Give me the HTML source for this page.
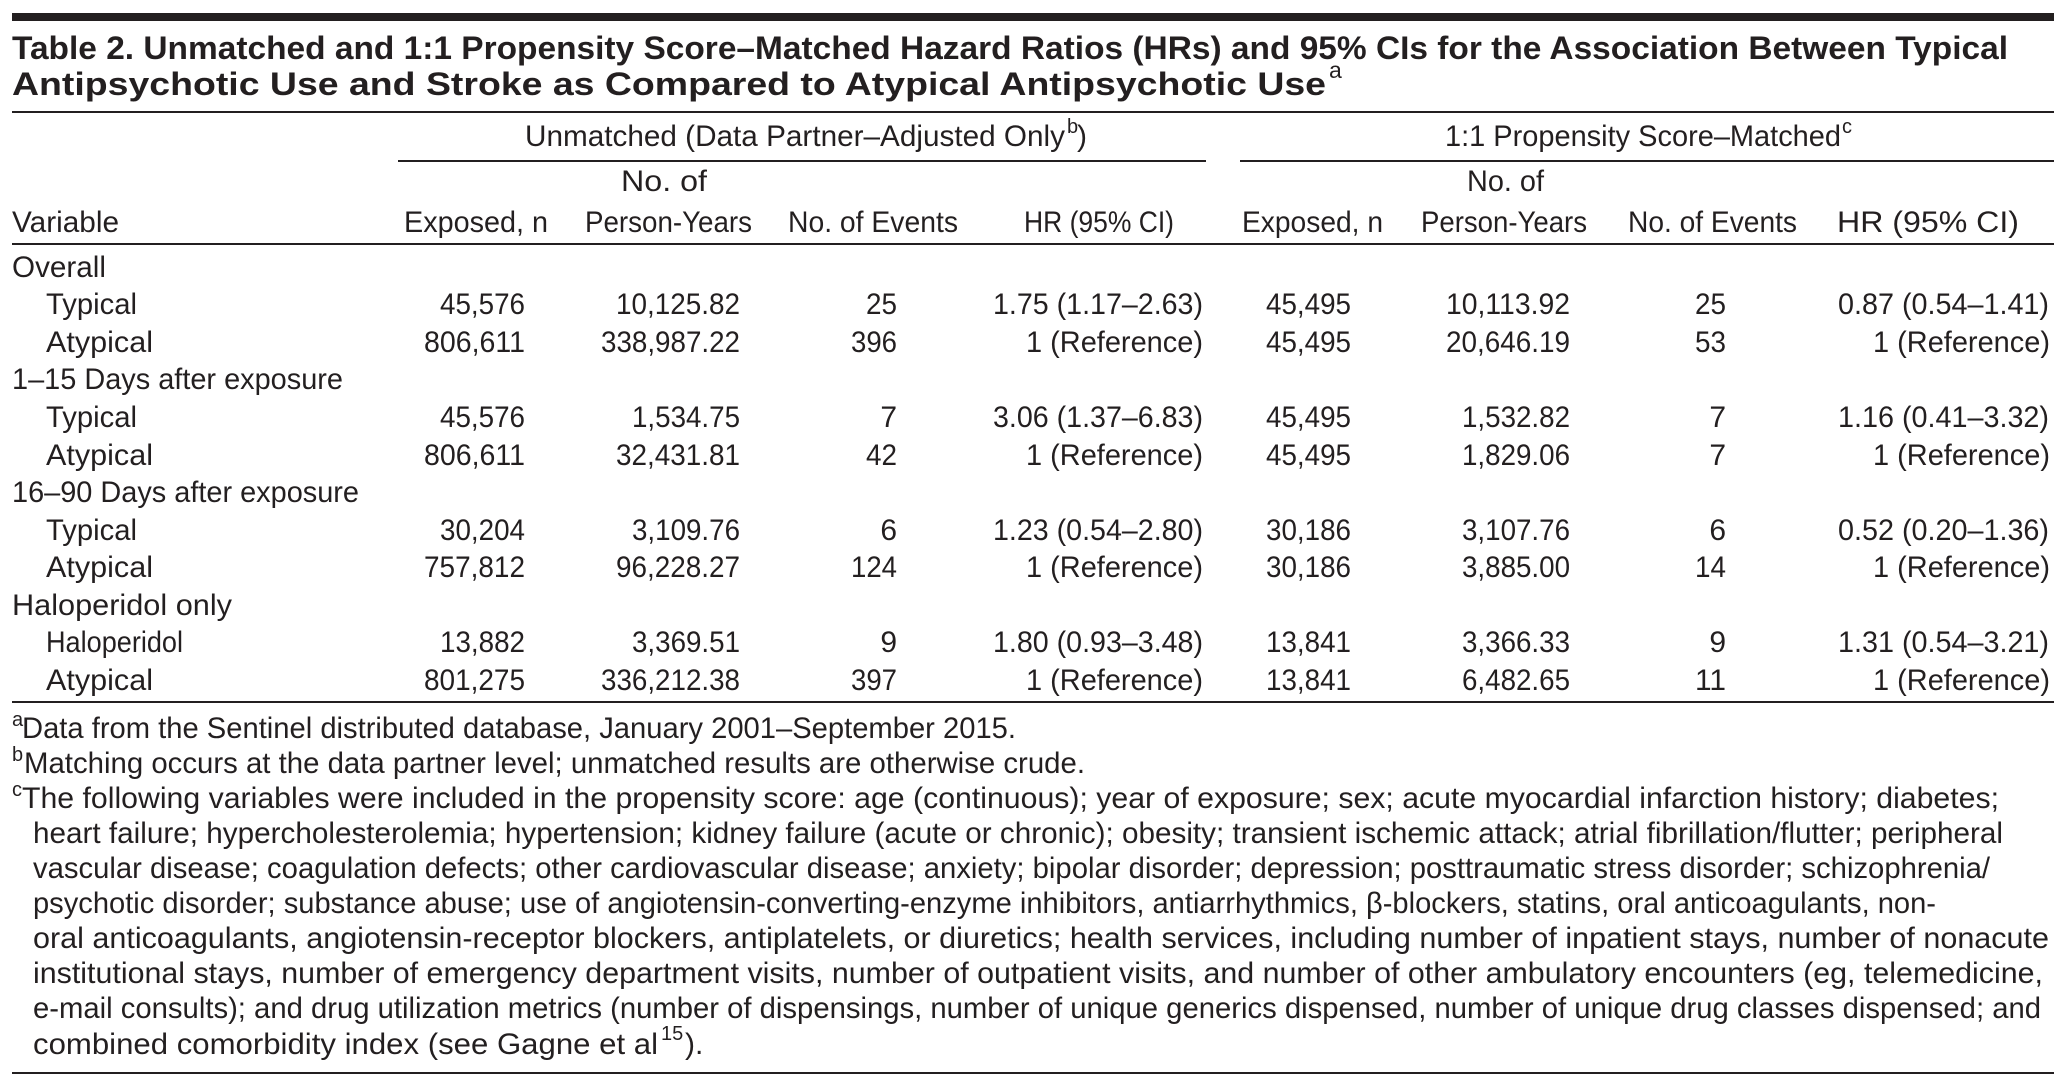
<!DOCTYPE html>
<html><head><meta charset="utf-8"><style>
html,body{margin:0;padding:0;background:#fff;}
svg{display:block;}
text{font-family:"Liberation Sans Narrow","Liberation Sans",sans-serif;fill:#231f20;font-size:30px;}
.b{font-weight:bold;font-size:32px;}
.r{text-anchor:end;}
.s{font-size:20px;}
</style></head><body>
<svg width="2069" height="1088" viewBox="0 0 2069 1088" xmlns="http://www.w3.org/2000/svg">
<rect x="12" y="13" width="2042" height="8" fill="#231f20"/>
<text class="b" x="12" y="59" textLength="1996" lengthAdjust="spacingAndGlyphs">Table 2. Unmatched and 1:1 Propensity Score–Matched Hazard Ratios (HRs) and 95% CIs for the Association Between Typical</text>
<text class="b" x="12" y="95" textLength="1314" lengthAdjust="spacingAndGlyphs">Antipsychotic Use and Stroke as Compared to Atypical Antipsychotic Use</text>
<text class="s" style="font-size:23px" x="1329" y="78">a</text>
<rect x="12" y="111" width="2042" height="2" fill="#231f20"/>

<text x="525" y="146" textLength="540" lengthAdjust="spacingAndGlyphs">Unmatched (Data Partner–Adjusted Only</text>
<text class="s" x="1067" y="133">b</text>
<text x="1077" y="146">)</text>
<rect x="398" y="160" width="808" height="2" fill="#231f20"/>
<text x="1445" y="146" textLength="396" lengthAdjust="spacingAndGlyphs">1:1 Propensity Score–Matched</text>
<text class="s" x="1842" y="133">c</text>
<rect x="1240" y="160" width="814" height="2" fill="#231f20"/>

<text x="621" y="191" textLength="86" lengthAdjust="spacingAndGlyphs">No. of</text>
<text x="1467" y="191" textLength="77" lengthAdjust="spacingAndGlyphs">No. of</text>
<text x="12" y="232" textLength="107" lengthAdjust="spacingAndGlyphs">Variable</text>
<text x="404" y="232" textLength="144" lengthAdjust="spacingAndGlyphs">Exposed, n</text>
<text x="585" y="232" textLength="167" lengthAdjust="spacingAndGlyphs">Person-Years</text>
<text x="788" y="232" textLength="170" lengthAdjust="spacingAndGlyphs">No. of Events</text>
<text x="1024" y="232" textLength="150" lengthAdjust="spacingAndGlyphs">HR (95% CI)</text>
<text x="1242" y="232" textLength="141" lengthAdjust="spacingAndGlyphs">Exposed, n</text>
<text x="1421" y="232" textLength="166" lengthAdjust="spacingAndGlyphs">Person-Years</text>
<text x="1628" y="232" textLength="169" lengthAdjust="spacingAndGlyphs">No. of Events</text>
<text x="1837" y="232" textLength="182" lengthAdjust="spacingAndGlyphs">HR (95% CI)</text>
<rect x="12" y="243" width="2042" height="2" fill="#231f20"/>

<text x="12" y="277" textLength="94" lengthAdjust="spacingAndGlyphs">Overall</text>
<text x="46" y="314" textLength="91" lengthAdjust="spacingAndGlyphs">Typical</text>
<text x="46" y="352" textLength="107" lengthAdjust="spacingAndGlyphs">Atypical</text>
<text x="12" y="389" textLength="331" lengthAdjust="spacingAndGlyphs">1–15 Days after exposure</text>
<text x="46" y="427" textLength="91" lengthAdjust="spacingAndGlyphs">Typical</text>
<text x="46" y="465" textLength="107" lengthAdjust="spacingAndGlyphs">Atypical</text>
<text x="12" y="502" textLength="347" lengthAdjust="spacingAndGlyphs">16–90 Days after exposure</text>
<text x="46" y="540" textLength="91" lengthAdjust="spacingAndGlyphs">Typical</text>
<text x="46" y="577" textLength="107" lengthAdjust="spacingAndGlyphs">Atypical</text>
<text x="12" y="615" textLength="220" lengthAdjust="spacingAndGlyphs">Haloperidol only</text>
<text x="46" y="652" textLength="137" lengthAdjust="spacingAndGlyphs">Haloperidol</text>
<text x="46" y="690" textLength="107" lengthAdjust="spacingAndGlyphs">Atypical</text>

<g>
<text class="r" x="525" y="314" textLength="85" lengthAdjust="spacingAndGlyphs">45,576</text>
<text class="r" x="525" y="352" textLength="101" lengthAdjust="spacingAndGlyphs">806,611</text>
<text class="r" x="525" y="427" textLength="85" lengthAdjust="spacingAndGlyphs">45,576</text>
<text class="r" x="525" y="465" textLength="101" lengthAdjust="spacingAndGlyphs">806,611</text>
<text class="r" x="525" y="540" textLength="85" lengthAdjust="spacingAndGlyphs">30,204</text>
<text class="r" x="525" y="577" textLength="101" lengthAdjust="spacingAndGlyphs">757,812</text>
<text class="r" x="525" y="652" textLength="85" lengthAdjust="spacingAndGlyphs">13,882</text>
<text class="r" x="525" y="690" textLength="101" lengthAdjust="spacingAndGlyphs">801,275</text>

<text class="r" x="740" y="314" textLength="124" lengthAdjust="spacingAndGlyphs">10,125.82</text>
<text class="r" x="740" y="352" textLength="139" lengthAdjust="spacingAndGlyphs">338,987.22</text>
<text class="r" x="740" y="427" textLength="108" lengthAdjust="spacingAndGlyphs">1,534.75</text>
<text class="r" x="740" y="465" textLength="124" lengthAdjust="spacingAndGlyphs">32,431.81</text>
<text class="r" x="740" y="540" textLength="108" lengthAdjust="spacingAndGlyphs">3,109.76</text>
<text class="r" x="740" y="577" textLength="124" lengthAdjust="spacingAndGlyphs">96,228.27</text>
<text class="r" x="740" y="652" textLength="108" lengthAdjust="spacingAndGlyphs">3,369.51</text>
<text class="r" x="740" y="690" textLength="139" lengthAdjust="spacingAndGlyphs">336,212.38</text>

<text class="r" x="897" y="314" textLength="31" lengthAdjust="spacingAndGlyphs">25</text>
<text class="r" x="897" y="352" textLength="46" lengthAdjust="spacingAndGlyphs">396</text>
<text class="r" x="897" y="427">7</text>
<text class="r" x="897" y="465" textLength="31" lengthAdjust="spacingAndGlyphs">42</text>
<text class="r" x="897" y="540">6</text>
<text class="r" x="897" y="577" textLength="46" lengthAdjust="spacingAndGlyphs">124</text>
<text class="r" x="897" y="652">9</text>
<text class="r" x="897" y="690" textLength="46" lengthAdjust="spacingAndGlyphs">397</text>

<text class="r" x="1203" y="314" textLength="210" lengthAdjust="spacingAndGlyphs">1.75 (1.17–2.63)</text>
<text class="r" x="1203" y="352" textLength="177" lengthAdjust="spacingAndGlyphs">1 (Reference)</text>
<text class="r" x="1203" y="427" textLength="210" lengthAdjust="spacingAndGlyphs">3.06 (1.37–6.83)</text>
<text class="r" x="1203" y="465" textLength="177" lengthAdjust="spacingAndGlyphs">1 (Reference)</text>
<text class="r" x="1203" y="540" textLength="210" lengthAdjust="spacingAndGlyphs">1.23 (0.54–2.80)</text>
<text class="r" x="1203" y="577" textLength="177" lengthAdjust="spacingAndGlyphs">1 (Reference)</text>
<text class="r" x="1203" y="652" textLength="210" lengthAdjust="spacingAndGlyphs">1.80 (0.93–3.48)</text>
<text class="r" x="1203" y="690" textLength="177" lengthAdjust="spacingAndGlyphs">1 (Reference)</text>

<text class="r" x="1351" y="314" textLength="85" lengthAdjust="spacingAndGlyphs">45,495</text>
<text class="r" x="1351" y="352" textLength="85" lengthAdjust="spacingAndGlyphs">45,495</text>
<text class="r" x="1351" y="427" textLength="85" lengthAdjust="spacingAndGlyphs">45,495</text>
<text class="r" x="1351" y="465" textLength="85" lengthAdjust="spacingAndGlyphs">45,495</text>
<text class="r" x="1351" y="540" textLength="85" lengthAdjust="spacingAndGlyphs">30,186</text>
<text class="r" x="1351" y="577" textLength="85" lengthAdjust="spacingAndGlyphs">30,186</text>
<text class="r" x="1351" y="652" textLength="85" lengthAdjust="spacingAndGlyphs">13,841</text>
<text class="r" x="1351" y="690" textLength="85" lengthAdjust="spacingAndGlyphs">13,841</text>

<text class="r" x="1570" y="314" textLength="124" lengthAdjust="spacingAndGlyphs">10,113.92</text>
<text class="r" x="1570" y="352" textLength="124" lengthAdjust="spacingAndGlyphs">20,646.19</text>
<text class="r" x="1570" y="427" textLength="108" lengthAdjust="spacingAndGlyphs">1,532.82</text>
<text class="r" x="1570" y="465" textLength="108" lengthAdjust="spacingAndGlyphs">1,829.06</text>
<text class="r" x="1570" y="540" textLength="108" lengthAdjust="spacingAndGlyphs">3,107.76</text>
<text class="r" x="1570" y="577" textLength="108" lengthAdjust="spacingAndGlyphs">3,885.00</text>
<text class="r" x="1570" y="652" textLength="108" lengthAdjust="spacingAndGlyphs">3,366.33</text>
<text class="r" x="1570" y="690" textLength="108" lengthAdjust="spacingAndGlyphs">6,482.65</text>

<text class="r" x="1726" y="314" textLength="31" lengthAdjust="spacingAndGlyphs">25</text>
<text class="r" x="1726" y="352" textLength="31" lengthAdjust="spacingAndGlyphs">53</text>
<text class="r" x="1726" y="427">7</text>
<text class="r" x="1726" y="465">7</text>
<text class="r" x="1726" y="540">6</text>
<text class="r" x="1726" y="577" textLength="31" lengthAdjust="spacingAndGlyphs">14</text>
<text class="r" x="1726" y="652">9</text>
<text class="r" x="1726" y="690" textLength="31" lengthAdjust="spacingAndGlyphs">11</text>

<text class="r" x="2049" y="314" textLength="211" lengthAdjust="spacingAndGlyphs">0.87 (0.54–1.41)</text>
<text class="r" x="2050" y="352" textLength="177" lengthAdjust="spacingAndGlyphs">1 (Reference)</text>
<text class="r" x="2049" y="427" textLength="211" lengthAdjust="spacingAndGlyphs">1.16 (0.41–3.32)</text>
<text class="r" x="2050" y="465" textLength="177" lengthAdjust="spacingAndGlyphs">1 (Reference)</text>
<text class="r" x="2049" y="540" textLength="211" lengthAdjust="spacingAndGlyphs">0.52 (0.20–1.36)</text>
<text class="r" x="2050" y="577" textLength="177" lengthAdjust="spacingAndGlyphs">1 (Reference)</text>
<text class="r" x="2049" y="652" textLength="211" lengthAdjust="spacingAndGlyphs">1.31 (0.54–3.21)</text>
<text class="r" x="2050" y="690" textLength="177" lengthAdjust="spacingAndGlyphs">1 (Reference)</text>
</g>
<rect x="12" y="701" width="2042" height="2" fill="#231f20"/>

<text class="s" x="12" y="726">a</text>
<text x="22" y="738" textLength="994" lengthAdjust="spacingAndGlyphs">Data from the Sentinel distributed database, January 2001–September 2015.</text>
<text class="s" x="12" y="761">b</text>
<text x="24" y="773" textLength="1061" lengthAdjust="spacingAndGlyphs">Matching occurs at the data partner level; unmatched results are otherwise crude.</text>
<text class="s" x="12" y="796">c</text>
<text x="22" y="808" textLength="1977" lengthAdjust="spacingAndGlyphs">The following variables were included in the propensity score: age (continuous); year of exposure; sex; acute myocardial infarction history; diabetes;</text>
<text x="33" y="843" textLength="1970" lengthAdjust="spacingAndGlyphs">heart failure; hypercholesterolemia; hypertension; kidney failure (acute or chronic); obesity; transient ischemic attack; atrial fibrillation/flutter; peripheral</text>
<text x="33" y="878" textLength="1957" lengthAdjust="spacingAndGlyphs">vascular disease; coagulation defects; other cardiovascular disease; anxiety; bipolar disorder; depression; posttraumatic stress disorder; schizophrenia/</text>
<text x="33" y="913" textLength="1903" lengthAdjust="spacingAndGlyphs">psychotic disorder; substance abuse; use of angiotensin-converting-enzyme inhibitors, antiarrhythmics, β-blockers, statins, oral anticoagulants, non-</text>
<text x="33" y="948" textLength="2016" lengthAdjust="spacingAndGlyphs">oral anticoagulants, angiotensin-receptor blockers, antiplatelets, or diuretics; health services, including number of inpatient stays, number of nonacute</text>
<text x="33" y="983" textLength="2010" lengthAdjust="spacingAndGlyphs">institutional stays, number of emergency department visits, number of outpatient visits, and number of other ambulatory encounters (eg, telemedicine,</text>
<text x="33" y="1018" textLength="2008" lengthAdjust="spacingAndGlyphs">e-mail consults); and drug utilization metrics (number of dispensings, number of unique generics dispensed, number of unique drug classes dispensed; and</text>
<text x="33" y="1054" textLength="625" lengthAdjust="spacingAndGlyphs">combined comorbidity index (see Gagne et al</text>
<text class="s" x="661" y="1040">15</text>
<text x="685" y="1054">).</text>
<rect x="12" y="1072" width="2042" height="2" fill="#231f20"/>
</svg>
</body></html>
